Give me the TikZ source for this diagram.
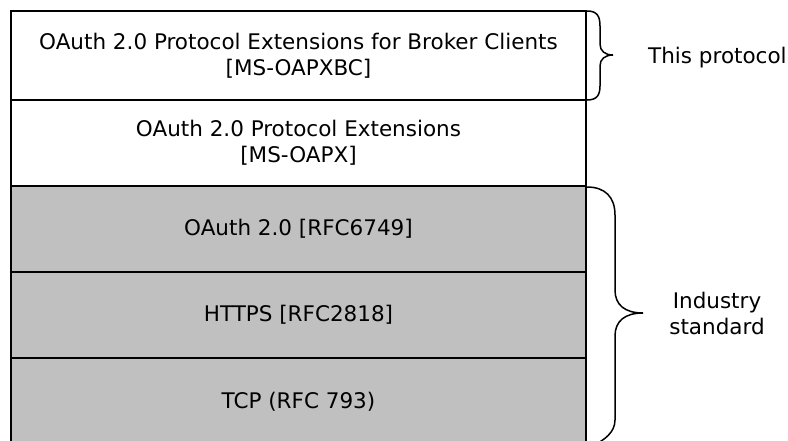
\documentclass[tikz,border=0pt]{standalone}
\usepackage{fontspec}
\setmainfont{DejaVu Sans}
\begin{document}
\begin{tikzpicture}[x=1pt,y=-1pt,
  layer/.style={draw=black,line width=1.5pt,minimum width=575pt,inner sep=0pt,align=center,
    font=\fontsize{21.5}{26}\selectfont},
  whitelayer/.style={layer,fill=white},
  graylayer/.style={layer,fill={rgb,255:red,192;green,192;blue,192}},
  bracepath/.style={draw=black,line width=1.5pt},
  lbl/.style={font=\fontsize{21.5}{26}\selectfont,align=center,inner sep=0pt}]
\useasboundingbox (0,0) rectangle (788,440);
\clip (0,0) rectangle (788,440);
\node[whitelayer,minimum height=89pt] (b1) at (298.5,55.5) {OAuth 2.0 Protocol Extensions for Broker Clients\\{}[MS-OAPXBC]};
\node[whitelayer,minimum height=86pt] (b2) at (298.5,143) {OAuth 2.0 Protocol Extensions\\{}[MS-OAPX]};
\node[graylayer,minimum height=86pt] (b3) at (298.5,229) {OAuth 2.0 [RFC6749]};
\node[graylayer,minimum height=86pt] (b4) at (298.5,315) {HTTPS [RFC2818]};
\node[graylayer,minimum height=88pt] (b5) at (298.5,402) {TCP (RFC 793)};
\draw[bracepath] (587,11) .. controls (597,11) and (600,16) .. (600,26) -- (600,44)
  .. controls (600,51) and (605,55) .. (613,55)
  .. controls (605,55) and (600,59) .. (600,66) -- (600,86)
  .. controls (600,95) and (597,100) .. (587,100);
\draw[bracepath] (587,187) .. controls (605,187) and (615,197) .. (615,215) -- (615,290)
  .. controls (615,305) and (625,313) .. (643,313)
  .. controls (625,313) and (615,321) .. (615,336) -- (615,420)
  .. controls (615,432) and (605,440) .. (592,446);
\node[lbl,anchor=west] (t1) at (648,58) {This protocol};
\node[lbl] (t2) at (717,313) {Industry\\standard};
\end{tikzpicture}
\end{document}
